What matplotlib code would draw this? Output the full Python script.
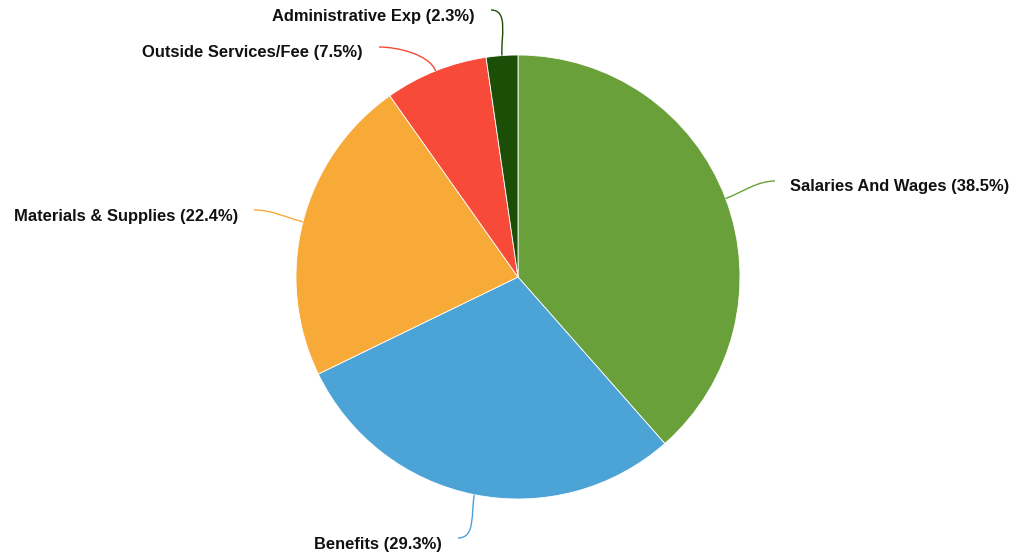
import numpy as np
import matplotlib
matplotlib.use("Agg")
import matplotlib.pyplot as plt
from matplotlib.path import Path
from matplotlib.patches import PathPatch

# Expense breakdown
categories = ["Salaries And Wages", "Benefits", "Materials & Supplies",
              "Outside Services/Fee", "Administrative Exp"]
shares = [38.5, 29.3, 22.4, 7.5, 2.3]
colors = ["#6aa03a", "#4ca3d6", "#f7aa38", "#f84a38", "#1b4f08"]

# Layout (pixel space, y grows downward)
W, H = 1016, 554
cx, cy, R = 518, 277, 222
label_ends = [(775, 181), (458, 538), (254, 210), (379, 47), (491, 10)]

fig = plt.figure(figsize=(W / 100, H / 100), dpi=100)
ax = fig.add_axes([0, 0, 1, 1])

wedges, _ = ax.pie(shares, colors=colors, startangle=90, counterclock=False,
                   center=(cx, H - cy), radius=R, frame=True,
                   wedgeprops=dict(edgecolor="white", linewidth=0.6))
ax.set_xlim(0, W)
ax.set_ylim(0, H)
ax.set_aspect("equal")
ax.axis("off")

for w, name, val, col, (ex, ey) in zip(wedges, categories, shares, colors, label_ends):
    mid = np.deg2rad((w.theta1 + w.theta2) / 2)
    dx, dy = np.cos(mid), np.sin(mid)
    p0 = (cx + R * dx, H - cy + R * dy)
    p3 = (ex, H - ey)
    right = ex > cx
    k = 18
    p1 = (p0[0] + dx * k, p0[1] + dy * k)
    p2 = (p3[0] + (-k if right else k), p3[1])
    path = Path([p0, p1, p2, p3],
                [Path.MOVETO, Path.CURVE4, Path.CURVE4, Path.CURVE4])
    ax.add_patch(PathPatch(path, facecolor="none", edgecolor=col, linewidth=1.0))
    tx = ex + 15 if right else ex - 16
    ax.text(tx, H - ey - 6, f"{name} ({val}%)", ha="left" if right else "right",
            va="center", fontsize=11.9, fontweight="bold",
            family=["Liberation Sans", "DejaVu Sans"], color="#111111")

fig.savefig("out.png", dpi=100)
